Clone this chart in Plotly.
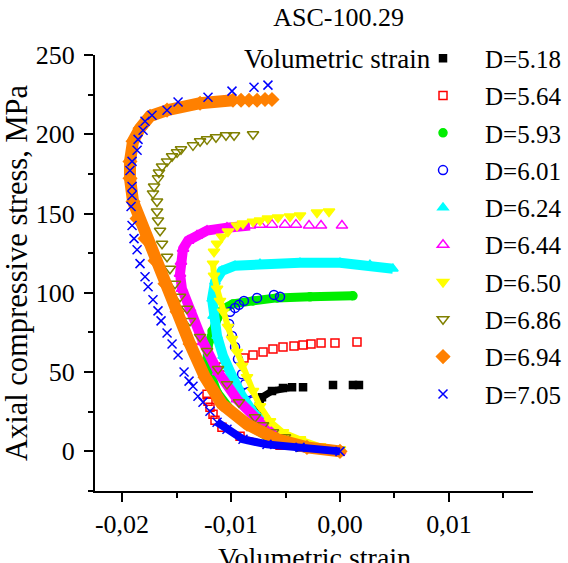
import plotly.graph_objects as go

# ---------------- data (volumetric strain, axial stress MPa) ----------------
labels = ["D=5.18", "D=5.64", "D=5.93", "D=6.01", "D=6.24",
          "D=6.44", "D=6.50", "D=6.86", "D=6.94", "D=7.05"]

x_518 = [0.0, -0.00367, -0.00596, -0.00688, -0.00743, -0.00716, -0.00624, -0.00523,
         -0.00440, -0.00339, -0.00064, 0.00119, 0.00174]
y_518 = [0.0, 2.5, 10.8, 20.3, 28.5, 34.2, 38.0, 39.9, 40.5, 40.5, 41.8, 41.8, 41.8]

x_564 = [0.0, -0.00550, -0.00917, -0.01083, -0.01147, -0.01165, -0.01193, -0.01211,
         -0.01220, -0.01128, -0.01073, -0.00881, -0.00798, -0.00706, -0.00615, -0.00523,
         -0.00422, -0.00339, -0.00266, -0.00174, -0.00046, 0.00156]
y_564 = [0.0, 3.8, 9.5, 15.2, 19.6, 23.4, 27.8, 31.6, 36.1, 50.6, 53.2, 58.9, 60.8,
         62.7, 64.6, 65.8, 66.5, 67.1, 67.7, 68.4, 68.4, 69.0]

x_593 = [0.0, -0.00367, -0.00670, -0.00853, -0.01009, -0.01128, -0.01193, -0.01220,
         -0.01211, -0.01174, -0.01128, -0.01073, -0.00982, -0.00798, -0.00578, -0.00275,
         0.00119]
y_593 = [0.0, 3.8, 9.5, 17.1, 26.6, 37.3, 50.0, 58.2, 66.5, 75.9, 83.5, 89.9, 93.0,
         94.9, 96.8, 97.5, 98.1]

x_601 = [0.0, -0.00367, -0.00596, -0.00734, -0.00798, -0.00844, -0.00872, -0.00899,
         -0.00936, -0.00963, -0.00991, -0.01018, -0.01009, -0.00963, -0.00927, -0.00881,
         -0.00761, -0.00606, -0.00550]
y_601 = [0.0, 3.2, 9.5, 20.3, 31.6, 37.3, 42.4, 48.7, 58.2, 65.8, 72.8, 80.4, 88.0,
         90.5, 92.4, 94.9, 96.8, 98.7, 97.5]

x_624 = [0.0, -0.00367, -0.00523, -0.00670, -0.00798, -0.00899, -0.00991, -0.01073,
         -0.01128, -0.01165, -0.01174, -0.01147, -0.01083, -0.00963, -0.00734, -0.00367,
         0.0, 0.00275, 0.00486]
y_624 = [0.0, 3.2, 8.9, 15.8, 24.7, 34.8, 47.5, 60.1, 72.8, 85.4, 96.2, 107.0, 113.9,
         117.1, 118.4, 119.0, 119.0, 117.7, 115.2]

x_644 = [0.0, -0.00367, -0.00550, -0.00761, -0.00945, -0.01119, -0.01257, -0.01376,
         -0.01450, -0.01468, -0.01459, -0.01440, -0.01394, -0.01312, -0.01220, -0.01037,
         -0.00826, -0.00734, -0.00624, -0.00505, -0.00404, -0.00284, -0.00174, 0.00018]
y_644 = [0.0, 3.2, 9.5, 20.3, 32.9, 50.0, 69.0, 89.9, 102.5, 112.0, 119.6, 127.8,
         132.9, 136.1, 139.2, 141.1, 142.4, 143.0, 143.0, 143.0, 143.0, 142.4, 142.4, 142.4]

x_650 = [0.0, -0.00183, -0.00367, -0.00523, -0.00642, -0.00734, -0.00798, -0.00853,
         -0.00899, -0.00945, -0.00991, -0.01028, -0.01073, -0.01101, -0.01128, -0.01156,
         -0.01165, -0.01156, -0.01128, -0.01083, -0.01028, -0.00945, -0.00890, -0.00798,
         -0.00734, -0.00661, -0.00569, -0.00459, -0.00367, -0.00211, -0.00101]
y_650 = [1.3, 3.2, 7.6, 12.0, 19.0, 28.5, 38.0, 46.8, 53.8, 62.7, 70.9, 78.5, 88.0,
         94.9, 102.5, 110.8, 118.4, 125.9, 131.0, 135.4, 138.6, 142.4, 143.7, 144.9,
         145.6, 146.8, 147.5, 148.1, 148.7, 150.6, 151.3]

x_686 = [-0.00028, -0.00211, -0.00367, -0.00505, -0.00615, -0.00706, -0.00780, -0.00927,
         -0.01037, -0.01119, -0.01220, -0.01284, -0.01376, -0.01404, -0.01468, -0.01514,
         -0.01560, -0.01587, -0.01633, -0.01651, -0.01670, -0.01679, -0.01679, -0.01716,
         -0.01706, -0.01670, -0.01661, -0.01633, -0.01587, -0.01541, -0.01495, -0.01459,
         -0.01349, -0.01284, -0.01220, -0.01138, -0.01046, -0.00972, -0.00798]
y_686 = [1.3, 2.5, 4.4, 8.9, 12.0, 16.5, 21.5, 31.0, 42.4, 51.9, 63.3, 72.2, 82.3,
         89.9, 97.5, 105.7, 115.2, 122.8, 131.0, 139.2, 145.6, 151.3, 157.6, 162.7,
         167.1, 172.2, 175.9, 179.7, 182.9, 186.1, 188.6, 190.5, 193.0, 195.6, 196.8,
         198.1, 199.4, 199.4, 200.0]

x_694 = [0.0, -0.00303, -0.00578, -0.00853, -0.01083, -0.01239, -0.01376, -0.01495,
         -0.01606, -0.01697, -0.01789, -0.01862, -0.01899, -0.01927, -0.01927, -0.01899,
         -0.01835, -0.01743, -0.01587, -0.01284, -0.00982, -0.00908, -0.00835, -0.00761,
         -0.00688, -0.00624]
y_694 = [0.0, 2.5, 7.6, 17.1, 29.7, 46.8, 67.7, 88.0, 105.7, 120.3, 134.2, 146.8,
         157.6, 172.2, 182.9, 195.6, 203.8, 211.4, 215.2, 219.6, 221.5, 221.5, 221.5,
         221.5, 221.9, 221.9]

x_705 = [0.0, -0.00367, -0.00670, -0.00890, -0.01037, -0.01128, -0.01193, -0.01257,
         -0.01303, -0.01349, -0.01385, -0.01431, -0.01486, -0.01541, -0.01587, -0.01642,
         -0.01670, -0.01716, -0.01761, -0.01789, -0.01835, -0.01862, -0.01890, -0.01908,
         -0.01917, -0.01908, -0.01908, -0.01927, -0.01908, -0.01862, -0.01853, -0.01807,
         -0.01789, -0.01725, -0.01587, -0.01486, -0.01211, -0.00991, -0.00789, -0.00661]
y_705 = [0.0, 2.5, 4.4, 7.6, 13.9, 18.4, 25.3, 31.0, 34.8, 41.1, 44.3, 50.0, 60.8,
         67.7, 74.7, 82.3, 88.6, 95.6, 103.8, 110.1, 118.4, 127.2, 134.2, 142.4, 154.4,
         161.4, 167.1, 177.2, 182.9, 189.9, 196.8, 202.5, 208.2, 212.0, 215.2, 220.3,
         223.4, 227.2, 229.7, 231.0]

x_tick_vals = [-0.02, -0.01, 0.0, 0.01]
x_tick_text = ["-0,02", "-0,01", "0,00", "0,01"]
y_tick_vals = [0, 50, 100, 150, 200, 250]

series_x = [x_518, x_564, x_593, x_601, x_624, x_644, x_650, x_686, x_694, x_705]
series_y = [y_518, y_564, y_593, y_601, y_624, y_644, y_650, y_686, y_694, y_705]

# ---------------- styles ----------------
FONT = "Liberation Serif"
styles = [
    dict(color="#000000", symbol="square", size=7, band=9, bw=7),
    dict(color="#FF0000", symbol="square-open", size=8, band=4, bw=3),
    dict(color="#00EE00", symbol="circle", size=8, band=17, bw=9),
    dict(color="#0000FF", symbol="circle-open", size=9, band=4, bw=3),
    dict(color="#00FFFF", symbol="triangle-up", size=9, band=19, bw=10),
    dict(color="#FF00FF", symbol="triangle-up-open", size=10, band=17, bw=10),
    dict(color="#FFFF00", symbol="triangle-down", size=10, band=17, bw=6),
    dict(color="#808000", symbol="triangle-down-open", size=10, band=4, bw=5),
    dict(color="#FF8000", symbol="diamond", size=10, band=21, bw=12),
    dict(color="#0000FF", symbol="x-thin", size=9, band=6, bw=8),
]

fig = go.Figure()
for i, (xs, ys, st, lab) in enumerate(zip(series_x, series_y, styles, labels)):
    n = st["band"]
    fig.add_trace(go.Scatter(
        x=xs[:n], y=ys[:n], mode="lines",
        line=dict(color=st["color"], width=st["bw"]),
        showlegend=False, hoverinfo="skip", legendgroup=lab))
    mk = dict(color=st["color"], symbol=st["symbol"], size=st["size"],
              line=dict(color=st["color"], width=1.5))
    fig.add_trace(go.Scatter(
        x=xs, y=ys, mode="markers", marker=mk, name=lab, legendgroup=lab))

axis_common = dict(
    showgrid=False, zeroline=False, showline=True, linecolor="black", linewidth=2,
    ticks="outside", ticklen=9, tickwidth=2, tickcolor="black", automargin=False,
    tickfont=dict(family=FONT, size=26, color="black"),
)

fig.update_xaxes(
    range=[-0.02248, 0.01771], tickvals=x_tick_vals, ticktext=x_tick_text, tickangle=0,
    minor=dict(ticks="outside", ticklen=5, tickwidth=2, tickcolor="black",
               dtick=0.005, tick0=0),
    **axis_common)
fig.update_yaxes(
    range=[-25, 250], tickvals=y_tick_vals, ticklabelstandoff=4,
    minor=dict(ticks="outside", ticklen=5, tickwidth=2, tickcolor="black",
               dtick=25, tick0=0),
    title=dict(text="Axial compressive stress, MPa",
               font=dict(family=FONT, size=30.5, color="black"), standoff=8),
    **axis_common)

fig.update_layout(
    width=568, height=563,
    margin=dict(l=95, r=35, t=55, b=72, autoexpand=False),
    paper_bgcolor="white", plot_bgcolor="white",
    font=dict(family=FONT, size=26, color="black"),
    title=dict(text="ASC-100.29", x=0.596, xref="container", xanchor="center",
               y=0.970, yref="container", yanchor="middle",
               font=dict(family=FONT, size=26, color="black")),
    legend=dict(
        xref="container", yref="container",
        x=0.706, y=0.937, xanchor="left", yanchor="top",
        bgcolor="rgba(0,0,0,0)", borderwidth=0, maxheight=1.0,
        font=dict(family=FONT, size=25, color="black"),
        itemwidth=74, tracegroupgap=1.8,
    ),
    annotations=[
        dict(text="Volumetric strain", xref="paper", yref="paper",
             x=0.772, y=0.99, xanchor="right", yanchor="middle", showarrow=False,
             font=dict(family=FONT, size=27, color="black")),
        dict(text="Volumetric strain", xref="paper", yref="paper",
             x=0.5, y=-0.152, xanchor="center", yanchor="middle", showarrow=False,
             font=dict(family=FONT, size=28, color="black")),
    ],
)

fig.write_html("out.html", config={"displayModeBar": False},
               post_script="document.body.style.margin='0';document.body.style.padding='0';")
